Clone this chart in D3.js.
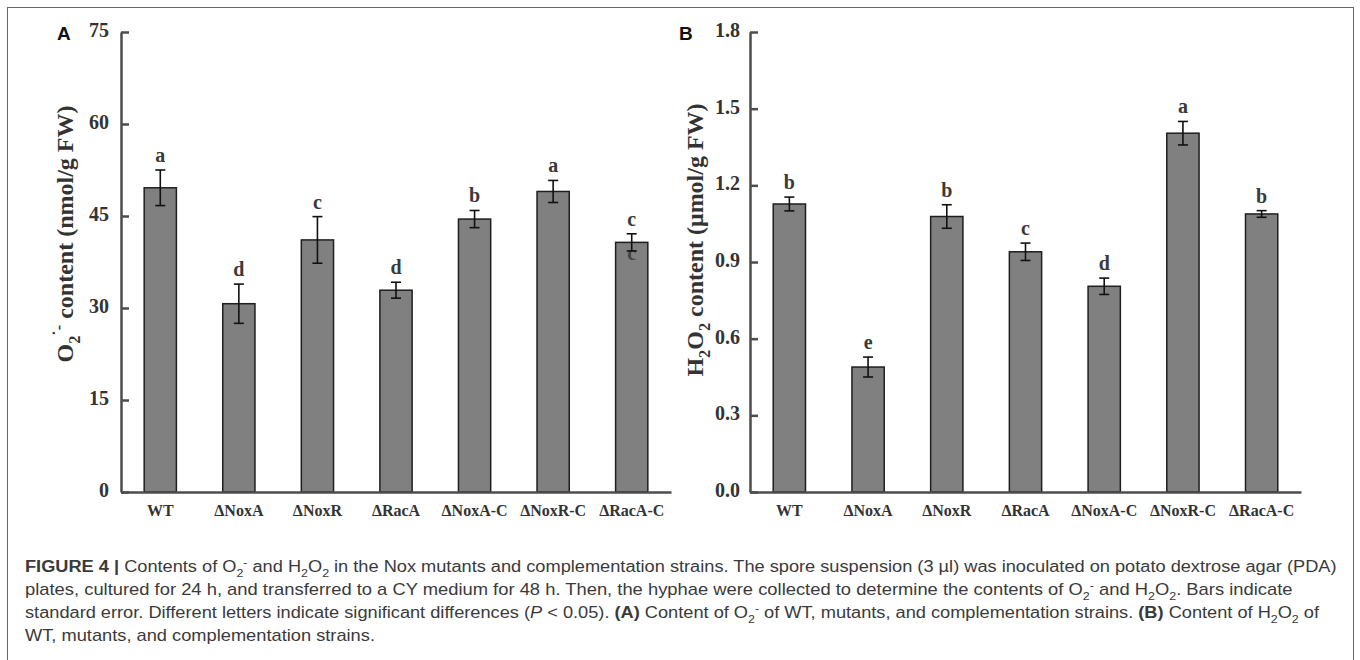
<!DOCTYPE html>
<html>
<head>
<meta charset="utf-8">
<script src="https://cdn.jsdelivr.net/npm/d3@7"></script>
<style>
  body { margin: 0; background: #fff; }
  svg { display: block; }
</style>
</head>
<body>
<svg id="fig" width="1360" height="660"></svg>
<script>
// strains on the x axis (same for both panels)
var strains = ["WT", "\u0394NoxA", "\u0394NoxR", "\u0394RacA", "\u0394NoxA-C", "\u0394NoxR-C", "\u0394RacA-C"];

// panel A: superoxide content (nmol/g FW)
var o2Values = [49.6, 30.7, 41.1, 32.9, 44.5, 49.0, 40.7];
var o2Errors = [2.9, 3.2, 3.8, 1.3, 1.4, 1.8, 1.4];
var o2Letters = ["a", "d", "c", "d", "b", "a", "c"];
var o2Ticks = [0, 15, 30, 45, 60, 75];

// panel B: hydrogen peroxide content (umol/g FW)
var h2o2Values = [1.127, 0.489, 1.078, 0.940, 0.805, 1.404, 1.088];
var h2o2Errors = [0.027, 0.039, 0.046, 0.034, 0.032, 0.046, 0.013];
var h2o2Letters = ["b", "e", "b", "c", "d", "a", "b"];
var h2o2Ticks = [0, 0.3, 0.6, 0.9, 1.2, 1.5, 1.8];

var svg = d3.select("#fig");
var serif = "'Liberation Serif', 'Times New Roman', serif";
var sans = "'Liberation Sans', Arial, sans-serif";

// outer frame of the figure
svg.append("rect")
  .attr("x", 7.5).attr("y", 7.5)
  .attr("width", 1346).attr("height", 700)
  .attr("fill", "none")
  .attr("stroke", "#666")
  .attr("stroke-width", 1);

// write a run of segments (bold / italic / sub / sup) into a text element
function rich(text, segs, base) {
  var shift = 0;
  segs.forEach(function(s) {
    var target = s.s === "sub" ? base * 0.3 : s.s === "sup" ? -base * 0.38 : 0;
    var ts = text.append("tspan")
      .attr("dy", target - shift)
      .text(s.t);
    shift = target;
    if (s.s) ts.attr("font-size", base * 0.68);
    if (s.b) ts.attr("font-weight", "bold");
    if (s.i) ts.attr("font-style", "italic");
  });
}

function panel(opt) {
  var g = svg.append("g");

  var x = d3.scaleBand()
    .domain(strains)
    .range(opt.xr)
    .paddingInner(0.59)
    .paddingOuter(0.295);

  var y = d3.scaleLinear()
    .domain([0, opt.max])
    .range([492, 32]);

  // y axis with inward ticks
  var ya = g.append("g")
    .attr("transform", "translate(" + opt.xr[0] + ",0)")
    .call(d3.axisLeft(y).tickValues(opt.ticks).tickFormat(d3.format(opt.fmt))
      .tickSizeInner(-8).tickSizeOuter(0).tickPadding(opt.pad));
  ya.select(".domain").attr("stroke", "#4d4d4d").attr("stroke-width", 2.5);
  ya.selectAll(".tick line").attr("stroke", "#4d4d4d").attr("stroke-width", 2.5);
  ya.selectAll(".tick text")
    .attr("font-family", serif).attr("font-weight", "bold")
    .attr("font-size", 20).attr("fill", "#333")
    .attr("dy", 4.5);

  // bars
  var idx = d3.range(strains.length);
  g.selectAll("rect.bar")
    .data(idx)
    .join("rect")
    .attr("class", "bar")
    .attr("x", function(i) { return x(strains[i]); })
    .attr("width", x.bandwidth())
    .attr("y", function(i) { return y(opt.values[i]); })
    .attr("height", function(i) { return y(0) - y(opt.values[i]); })
    .attr("fill", "#808080")
    .attr("stroke", "#1e1e1e")
    .attr("stroke-width", 1.5);

  // stray duplicated letter seen inside the last bar of panel A
  if (opt.extra) {
    g.append("text")
      .attr("x", x(opt.extra.cat) + x.bandwidth() / 2)
      .attr("y", y(opt.values[strains.indexOf(opt.extra.cat)]) + 18)
      .attr("text-anchor", "middle")
      .attr("font-family", serif).attr("font-weight", "bold")
      .attr("font-size", 20).attr("fill", "#444")
      .text(opt.extra.letter);
  }

  // error bars
  var eb = g.selectAll("g.err")
    .data(idx)
    .join("g")
    .attr("class", "err")
    .attr("stroke", "#111")
    .attr("stroke-width", 1.6);
  eb.append("line")
    .attr("x1", function(i) { return x(strains[i]) + x.bandwidth() / 2; })
    .attr("x2", function(i) { return x(strains[i]) + x.bandwidth() / 2; })
    .attr("y1", function(i) { return y(opt.values[i] + opt.errors[i]); })
    .attr("y2", function(i) { return y(opt.values[i] - opt.errors[i]); });
  [1, -1].forEach(function(sign) {
    eb.append("line")
      .attr("x1", function(i) { return x(strains[i]) + x.bandwidth() / 2 - 5; })
      .attr("x2", function(i) { return x(strains[i]) + x.bandwidth() / 2 + 5; })
      .attr("y1", function(i) { return y(opt.values[i] + sign * opt.errors[i]); })
      .attr("y2", function(i) { return y(opt.values[i] + sign * opt.errors[i]); });
  });

  // significance letters
  g.selectAll("text.sig")
    .data(idx)
    .join("text")
    .attr("class", "sig")
    .attr("x", function(i) { return x(strains[i]) + x.bandwidth() / 2; })
    .attr("y", function(i) { return y(opt.values[i] + opt.errors[i]) - 8; })
    .attr("text-anchor", "middle")
    .attr("font-family", serif).attr("font-weight", "bold")
    .attr("font-size", 20).attr("fill", "#3a3a3a")
    .text(function(i) { return opt.letters[i]; });

  // x axis
  var xa = g.append("g")
    .attr("transform", "translate(0,492)")
    .call(d3.axisBottom(x).tickSize(0).tickSizeOuter(0));
  xa.select(".domain").attr("stroke", "#4d4d4d").attr("stroke-width", 2.5);
  xa.selectAll(".tick text")
    .attr("y", 24).attr("dy", 0)
    .attr("font-family", serif).attr("font-weight", "bold")
    .attr("font-size", 16).attr("fill", "#333");

  // y title
  var t = g.append("text")
    .attr("transform", "translate(" + opt.titleX + "," + opt.titleY + ") rotate(-90)")
    .attr("text-anchor", "middle")
    .attr("font-family", serif).attr("font-weight", "bold")
    .attr("font-size", 24).attr("fill", "#333");
  rich(t, opt.title, 24);

  // panel letter
  g.append("text")
    .attr("x", opt.tagX).attr("y", 40)
    .attr("font-family", sans).attr("font-weight", "bold")
    .attr("font-size", 19).attr("fill", "#111")
    .text(opt.tag);
}

panel({
  xr: [121, 671], max: 75, ticks: o2Ticks, fmt: "d", pad: 12,
  values: o2Values, errors: o2Errors, letters: o2Letters,
  extra: { cat: "\u0394RacA-C", letter: "c" },
  titleX: 73, titleY: 234, tag: "A", tagX: 57,
  title: [{ t: "O" }, { t: "2", s: "sub" }, { t: "\u02D9-", s: "sup" }, { t: " content (nmol/g FW)" }]
});

panel({
  xr: [750, 1301], max: 1.8, ticks: h2o2Ticks, fmt: ".1f", pad: 10,
  values: h2o2Values, errors: h2o2Errors, letters: h2o2Letters,
  titleX: 703, titleY: 240, tag: "B", tagX: 679,
  title: [{ t: "H" }, { t: "2", s: "sub" }, { t: "O" }, { t: "2", s: "sub" }, { t: " content (\u03BCmol/g FW)" }]
});

// caption
var caption = [
  [{ t: "FIGURE 4 | ", b: true }, { t: "Contents of O" }, { t: "2", s: "sub" }, { t: "-", s: "sup" },
   { t: " and H" }, { t: "2", s: "sub" }, { t: "O" }, { t: "2", s: "sub" },
   { t: " in the Nox mutants and complementation strains. The spore suspension (3 \u00B5l) was inoculated on potato dextrose agar (PDA)" }],
  [{ t: "plates, cultured for 24 h, and transferred to a CY medium for 48 h. Then, the hyphae were collected to determine the contents of O" },
   { t: "2", s: "sub" }, { t: "-", s: "sup" }, { t: " and H" }, { t: "2", s: "sub" }, { t: "O" }, { t: "2", s: "sub" }, { t: ". Bars indicate" }],
  [{ t: "standard error. Different letters indicate significant differences (" }, { t: "P", i: true }, { t: " < 0.05). " },
   { t: "(A)", b: true }, { t: " Content of O" }, { t: "2", s: "sub" }, { t: "-", s: "sup" },
   { t: " of WT, mutants, and complementation strains. " }, { t: "(B)", b: true }, { t: " Content of H" },
   { t: "2", s: "sub" }, { t: "O" }, { t: "2", s: "sub" }, { t: " of" }],
  [{ t: "WT, mutants, and complementation strains." }]
];
// measured widths of the first three lines; the last line uses their mean scale
var capWidths = [1313, 1268, 1296];

var scales = [];
caption.forEach(function(segs, li) {
  var t = svg.append("text")
    .attr("x", 0).attr("y", 0)
    .attr("font-family", sans)
    .attr("font-size", 16)
    .attr("fill", "#3a3a3a");
  rich(t, segs, 16);
  var w = t.node().getBBox().width;
  var k = li < capWidths.length ? capWidths[li] / w : d3.mean(scales);
  scales.push(k);
  t.attr("transform", "translate(25," + (572 + li * 23) + ") scale(" + k + ",1)");
});
</script>
</body>
</html>
